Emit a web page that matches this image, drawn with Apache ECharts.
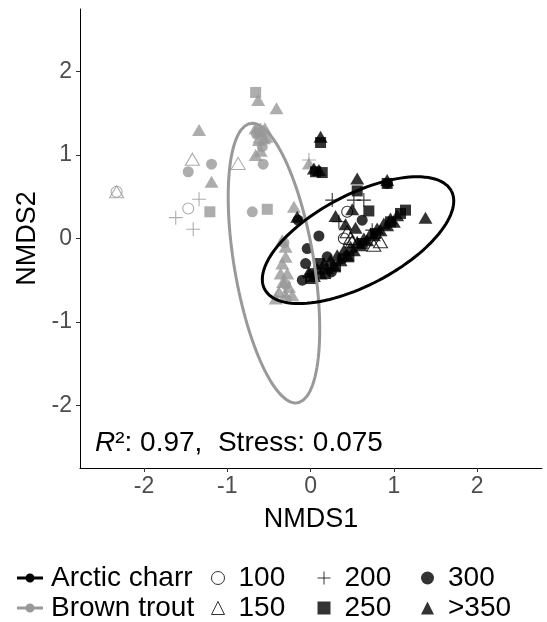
<!DOCTYPE html>
<html>
<head>
<meta charset="utf-8">
<script src="https://cdn.jsdelivr.net/npm/echarts@6/dist/echarts.min.js"></script>
<style>
  html, body { margin: 0; padding: 0; background: #fff; }
  #chart { width: 547px; height: 622px; }
</style>
</head>
<body>
<div id="chart"></div>
<script>
// NMDS scores, per species and length class (mm)
var charr100 = [[0.44, 0.32], [0.40, 0.00]];
var charr150 = [[0.48, 0.00], [0.50, -0.04], [0.76, -0.08], [0.84, -0.04], [0.44, 0.08]];
var charr200 = [[0.26, 0.46], [0.52, 0.46], [0.64, 0.46], [0.74, 0.10], [0.34, 0.20]];
var charr250 = [[0.12, 1.15], [0.56, 0.57], [0.92, 0.66], [0.70, 0.33], [1.14, 0.34], [1.08, 0.30],
  [0.14, 0.79], [0.06, 0.80], [0.00, -0.48], [0.18, -0.42], [0.30, -0.34], [0.46, -0.22],
  [0.62, -0.06], [0.78, 0.06], [0.96, 0.20], [0.10, -0.30]];
var charr300 = [[0.62, 0.22], [0.10, 0.03], [-0.04, -0.12], [-0.06, -0.30], [-0.10, -0.50],
  [-0.15, 0.22], [0.92, 0.66], [0.02, -0.42], [0.20, -0.22], [0.38, -0.24], [0.25, -0.40]];
var charr350 = [[0.12, 1.22], [0.04, 0.84], [0.10, 0.82], [0.56, 0.72], [0.92, 0.70], [1.38, 0.25],
  [0.30, 0.27], [0.50, 0.35], [0.42, 0.17], [0.54, 0.13], [-0.16, 0.26],
  [-0.02, -0.40], [0.04, -0.45], [0.08, -0.36], [0.12, -0.42], [0.16, -0.30], [0.20, -0.36],
  [0.24, -0.26], [0.28, -0.32], [0.32, -0.20], [0.36, -0.26], [0.40, -0.14], [0.44, -0.20],
  [0.48, -0.10], [0.52, -0.14], [0.56, -0.04], [0.60, -0.08], [0.64, 0.00], [0.68, -0.02],
  [0.72, 0.06], [0.76, 0.04], [0.80, 0.12], [0.84, 0.10], [0.88, 0.18], [0.92, 0.16],
  [0.96, 0.24], [1.00, 0.20], [1.04, 0.28]];

var trout100 = [[-2.33, 0.56], [-1.47, 0.36]];
var trout150 = [[-2.33, 0.56], [-1.42, 0.95], [-0.87, 0.90], [-0.35, -0.62], [-0.60, 1.22]];
var trout200 = [[-1.34, 0.47], [-1.62, 0.25], [-1.41, 0.11], [-0.02, 0.94], [-0.60, 1.30], [-0.30, -0.70]];
var trout250 = [[-1.21, 0.32], [-0.52, 0.35], [-0.66, 1.75], [-0.62, 1.28]];
var trout300 = [[-1.47, 0.80], [-1.19, 0.89], [-0.57, 0.89], [-0.70, 0.32], [-0.58, 1.10],
  [-0.65, 1.25], [-0.32, -0.05], [-0.30, -0.55]];
var trout350 = [[-1.34, 1.30], [-1.19, 0.68], [-0.63, 1.66], [-0.41, 1.56], [-0.66, 1.00],
  [-0.20, 0.38], [-0.02, 0.90], [-0.66, 1.32], [-0.60, 1.28], [-0.55, 1.32], [-0.62, 1.18],
  [-0.56, 1.20], [-0.60, 1.05], [-0.53, 1.22], [-0.34, -0.02], [-0.30, -0.22], [-0.34, -0.30],
  [-0.36, -0.42], [-0.28, -0.42], [-0.33, -0.52], [-0.26, -0.58], [-0.38, -0.64], [-0.30, -0.68],
  [-0.42, -0.72], [-0.22, -0.68], [-0.30, -0.10]];

// 95% ellipses: centre x, centre y, semi-axes, rotation (deg)
var charrEllipse = [0.57, -0.02, 1.267, 0.542, 27.7];
var troutEllipse = [-0.44, -0.295, 1.697, 0.478, 99.6];

var species = ['Arctic charr', 'Brown trout'];
var sizeClasses = ['100', '150', '200', '250', '300', '>350'];
var ticks = [-2, -1, 0, 1, 2];

var BLACK = '#000000';
var GREY = '#999999';
var FONT = 'Liberation Sans, Arial';
var plusPath = 'path://M5,0V10M0,5H10';
var keyPath = 'path://M0,3.5H26V6.5H0Z M13,0.5A4.5,4.5 0 1,1 12.99,0.5Z';

function ellipse(p) {
  var pts = [];
  var th = p[4] * Math.PI / 180;
  for (var i = 0; i <= 120; i++) {
    var t = i / 120 * 2 * Math.PI;
    pts.push([
      p[0] + p[2] * Math.cos(t) * Math.cos(th) - p[3] * Math.sin(t) * Math.sin(th),
      p[1] + p[2] * Math.cos(t) * Math.sin(th) + p[3] * Math.sin(t) * Math.cos(th)
    ]);
  }
  return pts;
}

// marker look for each length class
var shapes = {
  '100': { symbol: 'circle', size: 11, open: true },
  '150': { symbol: 'triangle', size: [14, 12], open: true },
  '200': { symbol: plusPath, size: 14, open: true },
  '250': { symbol: 'rect', size: 11, open: false },
  '300': { symbol: 'circle', size: 11, open: false },
  '>350': { symbol: 'triangle', size: [14, 12], open: false }
};

function pointSeries(name, data, color) {
  var s = shapes[name];
  return {
    name: name,
    type: 'scatter',
    data: data,
    symbol: s.symbol,
    symbolSize: s.size,
    itemStyle: s.open
      ? { color: 'none', borderColor: color, borderWidth: 1.1 }
      : { color: color, borderWidth: 0 },
    emphasis: { disabled: true },
    z: 2
  };
}

var trout = [trout100, trout150, trout200, trout250, trout300, trout350];
var charr = [charr100, charr150, charr200, charr250, charr300, charr350];
var series = [];
sizeClasses.forEach(function (c, i) { series.push(pointSeries(c, trout[i], GREY)); });
sizeClasses.forEach(function (c, i) { series.push(pointSeries(c, charr[i], BLACK)); });
series.push({
  name: species[1], type: 'line', data: ellipse(troutEllipse), showSymbol: false,
  color: GREY, lineStyle: { color: GREY, width: 3 }, z: 3, silent: true
});
series.push({
  name: species[0], type: 'line', data: ellipse(charrEllipse), showSymbol: false,
  color: BLACK, lineStyle: { color: BLACK, width: 3 }, z: 4, silent: true
});

function sizeKey(name) {
  var s = shapes[name];
  return {
    name: name,
    icon: s.symbol,
    itemStyle: s.open
      ? { color: 'none', borderColor: BLACK, borderWidth: 1 }
      : { color: BLACK, borderWidth: 0 }
  };
}

var legendText = { fontSize: 28, color: '#000', fontFamily: FONT, lineHeight: 26, padding: [0, 0, 0, 9] };

function sizeLegend(names, left) {
  return {
    orient: 'vertical', left: left, top: 564, padding: 0, itemWidth: 13, itemHeight: 13, itemGap: 2,
    selectedMode: false, data: names.map(sizeKey), textStyle: legendText
  };
}

var chart = echarts.init(document.getElementById('chart'));
chart.setOption({
  animation: false,
  grid: { left: 80, right: 5, top: 9, bottom: 154, containLabel: false, outerBoundsMode: 'none' },
  xAxis: {
    type: 'value', min: -2.77, max: 2.78,
    name: 'NMDS1', nameLocation: 'middle', nameGap: 38,
    nameTextStyle: { fontSize: 27, color: '#000', fontFamily: FONT },
    axisLine: { onZero: false, lineStyle: { color: '#000', width: 1 } },
    axisTick: { length: 4, lineStyle: { color: '#333' }, customValues: ticks },
    axisLabel: { fontSize: 23, color: '#4d4d4d', margin: 7, fontFamily: FONT, customValues: ticks },
    splitLine: { show: false }
  },
  yAxis: {
    type: 'value', min: -2.75, max: 2.75,
    name: 'NMDS2', nameLocation: 'middle', nameGap: 33, nameRotate: 90,
    nameTextStyle: { fontSize: 27, color: '#000', fontFamily: FONT },
    axisLine: { onZero: false, lineStyle: { color: '#000', width: 1 } },
    axisTick: { length: 4, lineStyle: { color: '#333' }, customValues: ticks },
    axisLabel: { fontSize: 23, color: '#4d4d4d', margin: 8, fontFamily: FONT, customValues: ticks },
    splitLine: { show: false }
  },
  legend: [
    {
      orient: 'vertical', left: 17, top: 564, padding: 0, itemWidth: 26, itemHeight: 9, itemGap: 2,
      selectedMode: false,
      data: [
        { name: species[0], icon: keyPath, itemStyle: { color: BLACK } },
        { name: species[1], icon: keyPath, itemStyle: { color: GREY } }
      ],
      textStyle: { fontSize: 28, color: '#000', fontFamily: FONT, lineHeight: 26, padding: [0, 0, 0, 3] }
    },
    sizeLegend(['100', '150'], 209),
    sizeLegend(['200', '250'], 315),
    sizeLegend(['300', '>350'], 421)
  ],
  graphic: [{
    type: 'text', left: 95, top: 429,
    style: {
      text: '{i|R}²: 0.97,  Stress: 0.075',
      font: '28px "Liberation Sans", Arial',
      fill: '#000',
      rich: { i: { fontStyle: 'italic', fontSize: 28, fontFamily: FONT } }
    }
  }],
  series: series
});
</script>
</body>
</html>
